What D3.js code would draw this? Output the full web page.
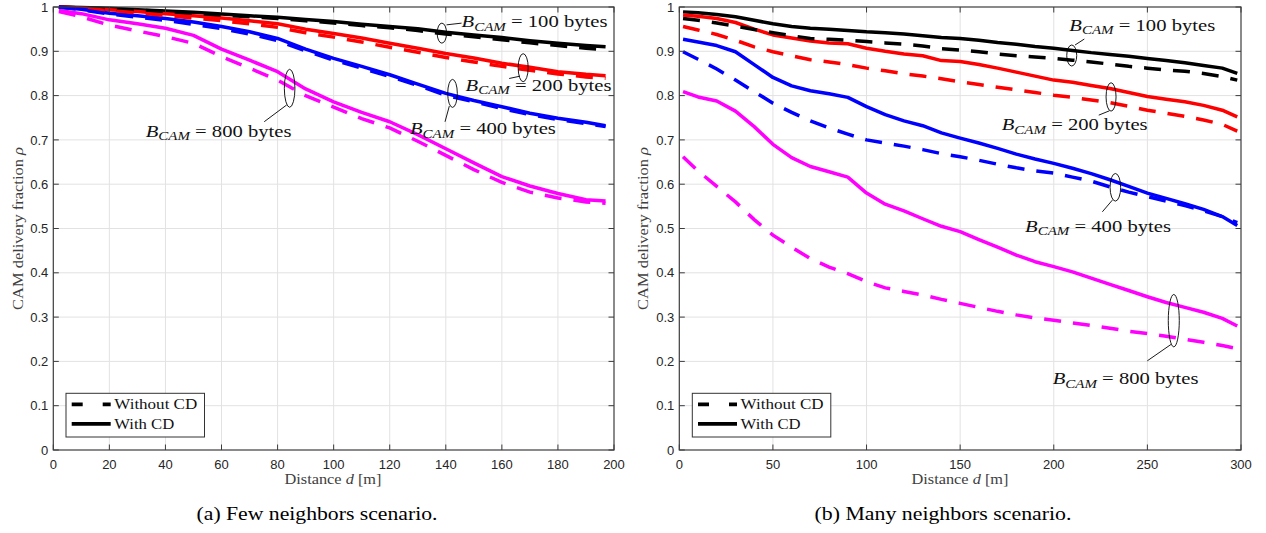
<!DOCTYPE html>
<html><head><meta charset="utf-8">
<script src="https://cdn.jsdelivr.net/npm/d3@7/dist/d3.min.js"></script>
<style>body{margin:0;background:#fff}</style>
</head><body>
<svg id="c" width="1266" height="533"></svg>
<script>
// ---------------- DATA ----------------
// (a) Few neighbors scenario
const distFew = [2,10,20,30,40,50,60,70,80,90,100,110,120,130,140,150,160,170,180,190,197];
const few100CD = [1.000,0.999,0.997,0.994,0.991,0.988,0.984,0.980,0.977,0.972,0.967,0.961,0.956,0.951,0.943,0.937,0.931,0.924,0.918,0.913,0.910];
const few100   = [1.000,0.998,0.996,0.993,0.990,0.986,0.982,0.978,0.974,0.969,0.964,0.958,0.953,0.947,0.939,0.933,0.926,0.919,0.913,0.907,0.904];
const few200CD = [1.000,0.998,0.994,0.990,0.985,0.980,0.975,0.969,0.962,0.950,0.940,0.930,0.918,0.907,0.895,0.885,0.873,0.864,0.854,0.848,0.845];
const few200   = [1.000,0.997,0.992,0.987,0.981,0.975,0.969,0.962,0.954,0.942,0.932,0.921,0.909,0.898,0.886,0.876,0.866,0.857,0.849,0.842,0.839];
const few400CD = [1.000,0.995,0.986,0.980,0.974,0.966,0.956,0.944,0.929,0.905,0.884,0.866,0.847,0.826,0.805,0.789,0.775,0.760,0.749,0.740,0.732];
const few400   = [1.000,0.994,0.984,0.977,0.970,0.961,0.951,0.939,0.924,0.901,0.880,0.862,0.843,0.823,0.801,0.786,0.771,0.757,0.746,0.737,0.730];
const few800CD = [0.992,0.985,0.971,0.962,0.952,0.936,0.905,0.880,0.854,0.815,0.786,0.762,0.741,0.712,0.680,0.648,0.617,0.596,0.579,0.565,0.562];
const few800   = [0.990,0.978,0.959,0.946,0.933,0.918,0.888,0.862,0.835,0.800,0.774,0.748,0.727,0.697,0.665,0.633,0.604,0.582,0.569,0.560,0.557];

// (b) Many neighbors scenario
const distMany = [2,10,20,30,40,50,60,70,80,90,100,110,120,130,140,150,160,170,180,190,200,210,220,230,240,250,260,270,280,290,298];
const many100CD = [0.989,0.987,0.983,0.978,0.970,0.962,0.956,0.952,0.950,0.947,0.944,0.942,0.939,0.935,0.931,0.929,0.925,0.920,0.916,0.911,0.907,0.902,0.897,0.893,0.889,0.884,0.879,0.874,0.868,0.862,0.850];
const many100   = [0.974,0.970,0.964,0.957,0.949,0.942,0.935,0.929,0.927,0.925,0.922,0.919,0.916,0.912,0.906,0.903,0.899,0.894,0.890,0.887,0.884,0.880,0.876,0.871,0.866,0.862,0.858,0.855,0.850,0.843,0.835];
const many200CD = [0.982,0.979,0.974,0.965,0.950,0.937,0.930,0.923,0.919,0.917,0.907,0.900,0.894,0.890,0.879,0.877,0.870,0.862,0.853,0.844,0.835,0.830,0.823,0.816,0.807,0.798,0.792,0.786,0.778,0.767,0.752];
const many200   = [0.956,0.948,0.938,0.925,0.910,0.899,0.890,0.881,0.876,0.870,0.862,0.856,0.849,0.844,0.838,0.831,0.825,0.819,0.813,0.807,0.801,0.796,0.790,0.784,0.776,0.767,0.760,0.753,0.745,0.735,0.720];
const many400CD = [0.927,0.921,0.913,0.899,0.870,0.841,0.822,0.811,0.804,0.796,0.775,0.757,0.743,0.732,0.716,0.704,0.693,0.681,0.668,0.657,0.647,0.636,0.624,0.610,0.595,0.580,0.568,0.556,0.543,0.527,0.507];
const many400   = [0.899,0.882,0.860,0.835,0.809,0.783,0.762,0.743,0.727,0.713,0.700,0.693,0.686,0.678,0.669,0.662,0.654,0.645,0.637,0.630,0.625,0.616,0.607,0.594,0.582,0.572,0.562,0.552,0.540,0.527,0.513];
const many800CD = [0.809,0.797,0.788,0.765,0.730,0.690,0.660,0.640,0.628,0.616,0.580,0.555,0.540,0.522,0.505,0.493,0.475,0.458,0.440,0.425,0.414,0.402,0.388,0.374,0.360,0.346,0.333,0.322,0.311,0.297,0.280];
const many800   = [0.662,0.630,0.595,0.560,0.520,0.485,0.458,0.432,0.413,0.398,0.380,0.366,0.358,0.350,0.340,0.331,0.322,0.313,0.305,0.298,0.293,0.287,0.281,0.275,0.268,0.263,0.257,0.250,0.243,0.236,0.229];

const bytesList = [100, 200, 400, 800];
const xTicksFew = [0,20,40,60,80,100,120,140,160,180,200];
const xTicksMany = [0,50,100,150,200,250,300];
const yTicks = [0,0.1,0.2,0.3,0.4,0.5,0.6,0.7,0.8,0.9,1];
const yTickLabels = ["0","0.1","0.2","0.3","0.4","0.5","0.6","0.7","0.8","0.9","1"];
const legendLabels = ["Without CD","With CD"];
const captions = ["(a) Few neighbors scenario.","(b) Many neighbors scenario."];

// annotation anchors (data coords of ellipse centres)
const annFewPos  = [[138.6,0.941],[167.6,0.863],[142.4,0.805],[84.3,0.8165]];
const annManyPos = [[209.6,0.8905],[230.6,0.797],[232.9,0.593],[264.1,0.292]];

// ---------------- STYLE / LAYOUT ----------------
const colors = ["#000000","#ff0000","#0000ff","#ff00ff"];
const plotTop = 7, plotBottom = 450;
const panels = [
  { x0:53.3, x1:614, domain:[0,200], ticks:xTicksFew, dist:distFew,
    solid:[few100CD,few200CD,few400CD,few800CD], dashed:[few100,few200,few400,few800],
    ann:annFewPos,
    annGeom:[ {rx:4.7,ry:10, l:[4.7,-8.3,19.7,-10], t:[19.7,-5.8]},
              {rx:5,ry:14, l:[-3.3,8.5,-14,10.8], t:[-57.6,23.2]},
              {rx:4.8,ry:14, l:[-3.2,12.7,-7.5,28.4], t:[-42.5,40.7]},
              {rx:5.3,ry:19, l:[-3,16.7,-25.4,33.4], t:[-144,48.4]} ],
    caption:captions[0], capCenter:317, capWidth:241, xlabCenter:333, ylabX:23, legX:66 },
  { x0:679.3, x1:1241, domain:[0,300], ticks:xTicksMany, dist:distMany,
    solid:[many100CD,many200CD,many400CD,many800CD], dashed:[many100,many200,many400,many800],
    ann:annManyPos,
    annGeom:[ {rx:5,ry:10.5, l:[3.3,-10.5,12.6,-16.5], t:[-2.4,-24.8]},
              {rx:5,ry:14.2, l:[-1.7,13.9,-12.3,18.2], t:[-109.3,33.2]},
              {rx:5.3,ry:13.8, l:[-3,12.8,-13,24.5], t:[-90.3,44.5]},
              {rx:5.5,ry:26.2, l:[-2.8,23.8,-26.5,40.2], t:[-121.1,63.5]} ],
    caption:captions[1], capCenter:943, capWidth:257, xlabCenter:960, ylabX:647.5, legX:692.3 }
];

const svg = d3.select('#c');
const serif = "Liberation Serif, Times New Roman, serif";
const sans = "Liberation Sans, Arial, Helvetica, sans-serif";

function stretchTo(t, x, y, width, rotate) {
  const n = t.node();
  const nat = n.getComputedTextLength();
  const s = width / nat;
  t.attr('transform', `translate(${x},${y})` + (rotate ? ' rotate(-90)' : '') + ` scale(${s},1)`);
}

const yScale = d3.scaleLinear().domain([0,1]).range([plotBottom, plotTop]);

panels.forEach((p, pi) => {
  const x = d3.scaleLinear().domain(p.domain).range([p.x0, p.x1]);
  const g = svg.append('g');
  const clipId = 'clip' + pi;
  svg.append('defs').append('clipPath').attr('id', clipId)
    .append('rect').attr('x', p.x0).attr('y', plotTop - 2).attr('width', p.x1 - p.x0).attr('height', plotBottom - plotTop + 2);

  g.append('rect').attr('x',p.x0).attr('y',plotTop).attr('width',p.x1-p.x0).attr('height',plotBottom-plotTop).attr('fill','#fff');

  // grid
  g.append('g').selectAll('line').data(p.ticks.slice(1,-1)).join('line')
    .attr('x1',d=>x(d)).attr('x2',d=>x(d)).attr('y1',plotTop).attr('y2',plotBottom)
    .attr('stroke','#e2e2e2').attr('stroke-width',1);
  g.append('g').selectAll('line').data(yTicks.slice(1,-1)).join('line')
    .attr('y1',d=>yScale(d)).attr('y2',d=>yScale(d)).attr('x1',p.x0).attr('x2',p.x1)
    .attr('stroke','#e2e2e2').attr('stroke-width',1);

  // lines
  const lineGen = d3.line().x((d,i)=>x(p.dist[i])).y(d=>yScale(d)).curve(d3.curveLinear);
  const lg = g.append('g').attr('clip-path', `url(#${clipId})`);
  p.solid.forEach((s, i) => {
    lg.append('path').datum(s).attr('d', lineGen).attr('fill','none')
      .attr('stroke', colors[i]).attr('stroke-width', 3.5).attr('stroke-linejoin','round');
  });
  p.dashed.forEach((s, i) => {
    lg.append('path').datum(s).attr('d', lineGen).attr('fill','none')
      .attr('stroke', colors[i]).attr('stroke-width', 3.5).attr('stroke-dasharray','17,12');
  });

  // axes box & ticks
  const axCol = '#3c3c3c';
  const tl = 5.5;
  p.ticks.forEach(t => {
    g.append('line').attr('x1',x(t)).attr('x2',x(t)).attr('y1',plotBottom).attr('y2',plotBottom-tl).attr('stroke',axCol);
    g.append('line').attr('x1',x(t)).attr('x2',x(t)).attr('y1',plotTop).attr('y2',plotTop+tl).attr('stroke',axCol);
  });
  yTicks.forEach(t => {
    g.append('line').attr('y1',yScale(t)).attr('y2',yScale(t)).attr('x1',p.x0).attr('x2',p.x0+tl).attr('stroke',axCol);
    g.append('line').attr('y1',yScale(t)).attr('y2',yScale(t)).attr('x1',p.x1).attr('x2',p.x1-tl).attr('stroke',axCol);
  });
  g.append('rect').attr('x',p.x0).attr('y',plotTop).attr('width',p.x1-p.x0).attr('height',plotBottom-plotTop)
    .attr('fill','none').attr('stroke',axCol).attr('stroke-width',1.2);

  // tick labels
  g.append('g').selectAll('text').data(p.ticks).join('text')
    .attr('x',d=>x(d)).attr('y',469).attr('text-anchor','middle')
    .attr('font-family',sans).attr('font-size',13).attr('fill','#262626').text(d=>d);
  g.append('g').selectAll('text').data(yTicks).join('text')
    .attr('x',p.x0-5).attr('y',d=>yScale(d)).attr('dy','0.36em').attr('text-anchor','end')
    .attr('font-family',sans).attr('font-size',13).attr('fill','#262626').text((d,i)=>yTickLabels[i]);

  // axis labels
  const xl = g.append('text').attr('font-family',serif).attr('font-size',15.5).attr('fill','#404040').attr('text-anchor','middle');
  xl.append('tspan').text('Distance ');
  xl.append('tspan').attr('font-style','italic').text('d');
  xl.append('tspan').text(' [m]');
  stretchTo(xl, p.xlabCenter, 484, 97);

  const yl = g.append('text').attr('font-family',serif).attr('font-size',15.5).attr('fill','#404040').attr('text-anchor','middle');
  yl.append('tspan').text('CAM delivery fraction ');
  yl.append('tspan').attr('font-style','italic').text('ρ');
  stretchTo(yl, p.ylabX, (plotTop+plotBottom)/2, 163, true);

  // annotations
  p.ann.forEach((a, i) => {
    const geo = p.annGeom[i];
    const cx = x(a[0]), cy = yScale(a[1]);
    g.append('ellipse').attr('cx',cx).attr('cy',cy).attr('rx',geo.rx).attr('ry',geo.ry)
      .attr('fill','none').attr('stroke','#000').attr('stroke-width',0.9);
    g.append('line').attr('x1',cx+geo.l[0]).attr('y1',cy+geo.l[1]).attr('x2',cx+geo.l[2]).attr('y2',cy+geo.l[3])
      .attr('stroke','#000').attr('stroke-width',0.9);
    const t = g.append('text').attr('font-family',serif).attr('font-size',16.5).attr('fill','#111');
    t.append('tspan').attr('font-style','italic').text('B');
    t.append('tspan').attr('font-style','italic').attr('font-size',12).attr('dy',3.5).text('CAM');
    t.append('tspan').attr('dy',-3.5).text(' = ' + bytesList[i] + ' bytes');
    stretchTo(t, cx+geo.t[0], cy+geo.t[1], 146);
  });

  // legend
  const lx = p.legX, ly = 393.3;
  const leg = g.append('g');
  leg.append('rect').attr('x',lx).attr('y',ly).attr('width',138.5).attr('height',43.7)
    .attr('fill','#fff').attr('stroke','#333').attr('stroke-width',1);
  const rowsY = [ly+16, ly+35.5];
  leg.append('line').attr('x1',lx+5.7).attr('x2',lx+44.7).attr('y1',rowsY[0]-5).attr('y2',rowsY[0]-5)
    .attr('stroke','#000').attr('stroke-width',3.8).attr('stroke-dasharray','11,20');
  leg.append('line').attr('x1',lx+5.7).attr('x2',lx+44.7).attr('y1',rowsY[1]-5).attr('y2',rowsY[1]-5)
    .attr('stroke','#000').attr('stroke-width',3.8);
  const legW = [83, 60];
  legendLabels.forEach((lab, i) => {
    const t = leg.append('text').attr('font-family',serif).attr('font-size',14.5).attr('fill','#111').text(lab);
    stretchTo(t, lx+48.3, rowsY[i], legW[i]);
  });

  // caption
  const cap = g.append('text').attr('font-family',serif).attr('font-size',18).attr('fill','#000')
    .attr('text-anchor','middle').text(p.caption);
  stretchTo(cap, p.capCenter, 520, p.capWidth);
});
</script>
</body></html>
